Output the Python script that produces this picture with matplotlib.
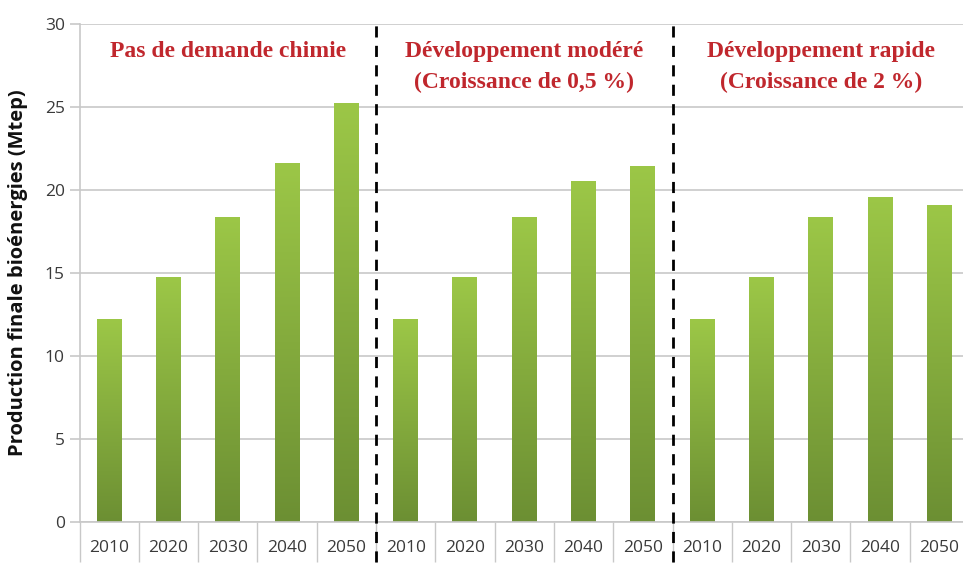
import numpy as np
import matplotlib
matplotlib.use("Agg")
import matplotlib.pyplot as plt
from matplotlib.colors import LinearSegmentedColormap

# Bioenergy final production (Mtep) by scenario and year
years = ["2010", "2020", "2030", "2040", "2050"]
no_chem_demand = [12.2, 14.75, 18.4, 21.65, 25.25]
moderate_dev = [12.2, 14.75, 18.4, 20.55, 21.45]
rapid_dev = [12.2, 14.75, 18.4, 19.6, 19.1]
scenario_titles = [
    "Pas de demande chimie",
    "Développement modéré\n(Croissance de 0,5 %)",
    "Développement rapide\n(Croissance de 2 %)",
]
y_label = "Production finale bioénergies (Mtep)"

groups = [no_chem_demand, moderate_dev, rapid_dev]
values = [v for g in groups for v in g]
labels = years * len(groups)
x = np.arange(len(values))

W, H = 963, 564
left_px, cat_px = 79.5, 59.3
fig = plt.figure(figsize=(W / 100, H / 100), dpi=100)
ax = fig.add_axes([left_px / W, 1 - 522 / H, len(values) * cat_px / W, (522 - 24) / H])

ax.set_xlim(-0.5, len(values) - 0.5)
ax.set_ylim(0, 30)
ax.set_yticks(np.arange(0, 31, 5))
ax.yaxis.grid(True, color="#c8c8c8", linewidth=1.2)
ax.set_axisbelow(True)

# Bars with a vertical light-to-dark green gradient
cmap = LinearSegmentedColormap.from_list("grn", ["#6c8f33", "#9cc747"])
grad = np.linspace(0, 1, 256).reshape(-1, 1)
width = 0.42
for xi, v in zip(x, values):
    bars = ax.bar(xi, v, width=width, color="none", edgecolor="none")
    rect = bars[0]
    im = ax.imshow(grad, cmap=cmap, origin="lower", aspect="auto",
                   extent=(xi - width / 2, xi + width / 2, 0, v), zorder=2)
    im.set_clip_path(rect)
ax.set_xlim(-0.5, len(values) - 0.5)
ax.set_ylim(0, 30)

for s in ["top", "right"]:
    ax.spines[s].set_visible(False)
ax.spines["left"].set_color("#c8c8c8")
ax.spines["bottom"].set_color("#c8c8c8")
ax.spines["left"].set_linewidth(1.2)
ax.spines["bottom"].set_linewidth(1.2)

# Category labels with separator ticks between categories
ax.set_xticks(x)
ax.set_xticklabels(labels, fontsize=12.5, color="#3a3a3a", family="Open Sans")
ax.tick_params(axis="x", which="major", length=0, pad=13)
ax.set_xticks(np.arange(-0.5, len(values), 1.0), minor=True)
ax.tick_params(axis="x", which="minor", length=29, width=1.0, color="#c8c8c8")
ax.tick_params(axis="y", length=7, width=1.2, color="#c8c8c8",
               labelsize=12.5, labelcolor="#3a3a3a")
for t in ax.get_yticklabels():
    t.set_family("Open Sans")

ax.set_ylabel(y_label, fontsize=14.5, fontweight="bold", family="Open Sans",
              color="#111111", labelpad=12)

# Scenario dividers
for b in [4.5, 9.5]:
    ax.axvline(b, ymin=-0.08, ymax=1.0, color="black", linestyle=(0, (4, 3)),
               linewidth=2, clip_on=False, zorder=5)

# Scenario headings
for i, title in enumerate(scenario_titles):
    cx = i * 5 + 2
    ax.text(cx, 29.0, title, ha="center", va="top", fontsize=17,
            fontweight="bold", family="Liberation Serif", color="#c0272d",
            linespacing=1.65)

fig.savefig("out.png", dpi=100)
